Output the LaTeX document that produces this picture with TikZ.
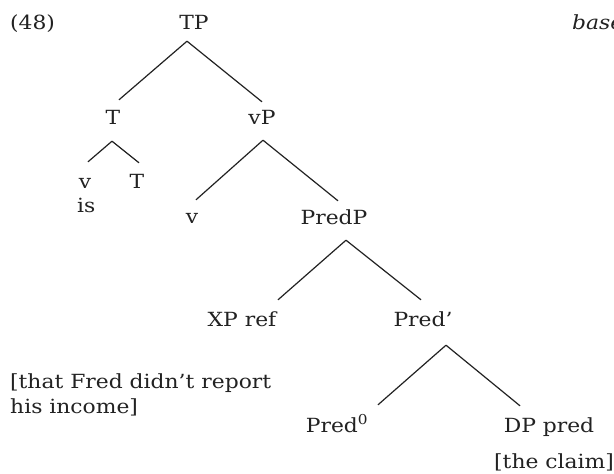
\documentclass[tikz,border=0pt]{standalone}
\usepackage{fontspec}
\setmainfont[FakeStretch=1.12]{DejaVu Serif}
\definecolor{ink}{HTML}{222222}
\begin{document}
\begin{tikzpicture}[x=1pt,y=-1pt,
  lab/.style={anchor=base,inner sep=0pt,text height=14pt,text depth=0pt,text=ink,font=\fontsize{19.5}{23}\selectfont},
  txt/.style={anchor=base west,inner sep=0pt,text=ink,font=\fontsize{19.5}{23}\selectfont},
  edge/.style={draw=ink,line width=1.2pt}]
\useasboundingbox[fill=white] (0,0) rectangle (614,474);
% labels
\node[txt] (ex) at (10,29) {(48)};
\node[txt,font=\fontsize{19.5}{23}\selectfont\itshape] (base) at (572,29) {base};
\node[lab] (TP) at (194,29) {TP};
\node[lab] (T) at (113,124) {T};
\node[lab] (vP) at (262,124) {vP};
\node[lab] (v1) at (85,188) {v};
\node[lab] (T2) at (137,188) {T};
\node[txt] (is) at (77,212) {is};
\node[lab] (v2) at (192,223) {v};
\node[lab] (PredP) at (334,224) {PredP};
\node[lab] (XP) at (242,326) {XP ref};
\node[lab] (Predb) at (423,326) {Pred’};
\node[txt] (that1) at (10,388) {[that Fred didn’t report};
\node[txt] (that2) at (10,413) {his income]};
\node[lab] (Pred0) at (337,432) {Pred\textsuperscript{0}};
\node[lab] (DP) at (549,432) {DP pred};
\node[txt] (claim) at (494,468) {[the claim]};
% edges
\draw[edge] ([shift={(-7,12)}]TP.south) -- ([shift={(6,-10)}]T.north);
\draw[edge] ([shift={(-7,12)}]TP.south) -- ([shift={(0,-8)}]vP.north);
\draw[edge] ([shift={(-1,17)}]T.south) -- ([shift={(3,-12)}]v1.north);
\draw[edge] ([shift={(-1,17)}]T.south) -- ([shift={(2,-11)}]T2.north);
\draw[edge] ([shift={(1,16)}]vP.south) -- ([shift={(4,-9)}]v2.north);
\draw[edge] ([shift={(1,16)}]vP.south) -- ([shift={(4,-9)}]PredP.north);
\draw[edge] ([shift={(12,16)}]PredP.south) -- ([shift={(36,-12)}]XP.north);
\draw[edge] ([shift={(12,16)}]PredP.south) -- ([shift={(-2,-12)}]Predb.north);
\draw[edge] ([shift={(23,19)}]Predb.south) -- ([shift={(41,-13)}]Pred0.north);
\draw[edge] ([shift={(23,19)}]Predb.south) -- ([shift={(-29,-12)}]DP.north);
\end{tikzpicture}
\end{document}
